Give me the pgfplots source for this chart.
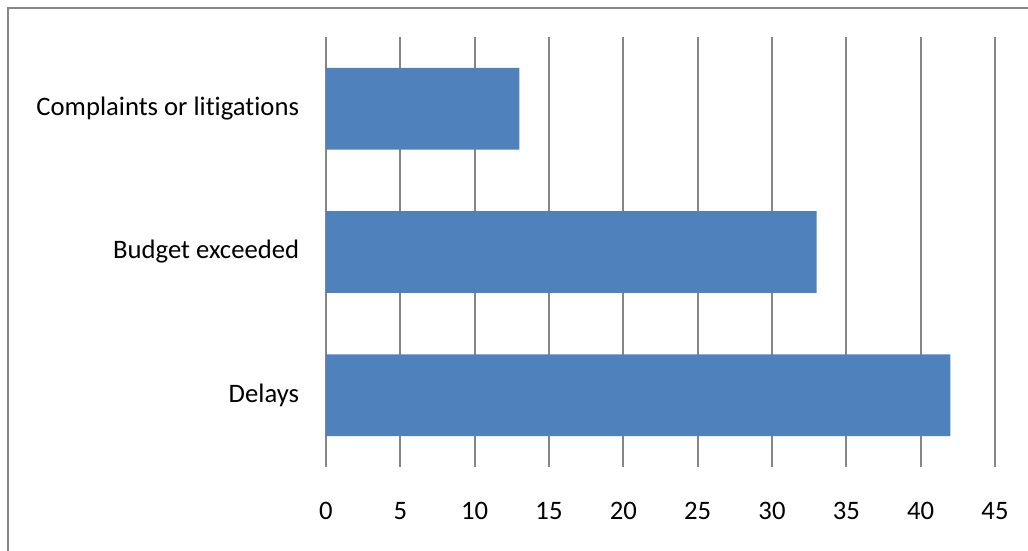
\documentclass[border=0pt]{standalone}
\usepackage{fontspec}
\setmainfont{Carlito}[Ligatures=NoCommon]
\usepackage{pgfplots}
\pgfplotsset{compat=1.18}
\definecolor{barblue}{RGB}{79,129,189}
\definecolor{gridgray}{RGB}{134,134,134}
\begin{document}
\begin{tikzpicture}
\useasboundingbox (-244.5pt,-62.25pt) rectangle (526.5pt,350.25pt);
\begin{axis}[
  at={(0,0)}, anchor=south west,
  scale only axis,
  width=501.75pt, height=322.5pt,
  xbar,
  xmin=0, xmax=45,
  ymin=-0.5, ymax=2.5,
  xtick={0,5,...,45},
  ytick={0,1,2},
  yticklabels={Delays,Budget exceeded,Complaints or litigations},
  bar width=0.57,
  axis line style={draw=none},
  major tick length=0pt,
  xmajorgrids,
  grid style={gridgray, line width=1.4pt},
  /pgf/number format/assume math mode=true,
  tick label style={font=\fontsize{20}{24}\selectfont, inner sep=0pt},
  xticklabel style={anchor=north, yshift=-26pt},
  yticklabel style={anchor=east, xshift=-20pt},
  clip=false,
]
\addplot[fill=barblue, draw=none] coordinates {(42,0) (33,1) (13,2)};
\end{axis}
\draw[gridgray, line width=1.2pt] (-238.5pt,-70pt) -- (-238.5pt,344.25pt) -- (540pt,344.25pt);
\end{tikzpicture}
\end{document}
